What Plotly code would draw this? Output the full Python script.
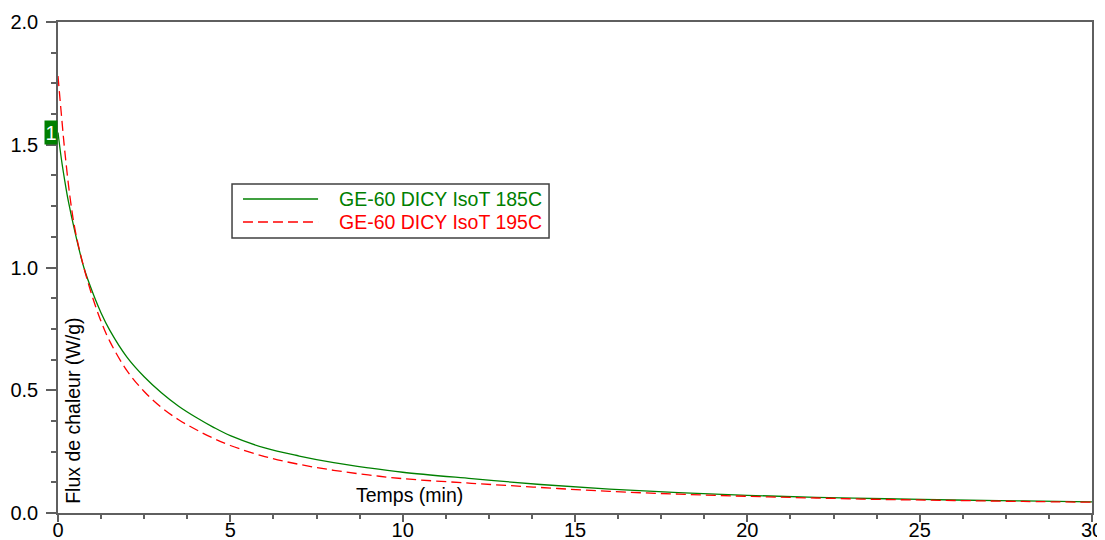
import plotly.graph_objects as go

# Temps (min) / flux de chaleur (W/g)
t_185 = [0, 0.1, 0.2, 0.3, 0.5, 0.75, 1.0, 1.25, 1.5, 2.0, 2.5, 3.0, 3.5, 4.0, 4.5, 5.0,
         6.0, 7.0, 8.0, 9.0, 10, 12, 14, 16, 18, 20, 22, 24, 26, 28, 30]
flux_185 = [1.55, 1.44, 1.35, 1.27, 1.14, 1.0, 0.9, 0.815, 0.745, 0.635, 0.555, 0.49,
            0.435, 0.39, 0.35, 0.315, 0.265, 0.232, 0.205, 0.184, 0.166, 0.14, 0.116,
            0.097, 0.083, 0.072, 0.064, 0.058, 0.053, 0.049, 0.045]

t_195 = [0, 0.1, 0.2, 0.35, 0.5, 0.75, 1.0, 1.25, 1.5, 2.0, 2.5, 3.0, 3.5, 4.0, 4.5, 5.0,
         6.0, 7.0, 8.0, 9.0, 10, 12, 14, 16, 18, 20, 22, 24, 26, 28, 30]
flux_195 = [1.78, 1.62, 1.47, 1.285, 1.15, 1.0, 0.88, 0.78, 0.70, 0.58, 0.495, 0.43,
            0.38, 0.34, 0.305, 0.275, 0.23, 0.198, 0.174, 0.155, 0.14, 0.121, 0.104,
            0.088, 0.077, 0.068, 0.061, 0.055, 0.051, 0.047, 0.044]

names = ["GE-60 DICY IsoT 185C", "GE-60 DICY IsoT 195C"]
colors = ["#008000", "#ff0000"]
dashes = ["solid", "10px,5px"]

FONT = "Liberation Sans, Arial, sans-serif"
AXIS_COL = "#5f5f5f"

fig = go.Figure()

fig.add_trace(go.Scatter(x=t_185, y=flux_185, mode="lines", name=names[0],
                         line=dict(color=colors[0], width=1.3, shape="spline", dash=dashes[0])))
fig.add_trace(go.Scatter(x=t_195, y=flux_195, mode="lines", name=names[1],
                         line=dict(color=colors[1], width=1.3, shape="spline", dash=dashes[1])))

# hand-made legend box (wider line samples than plotly's own legend)
box = dict(x0=0.1683, x1=0.4749, y0=0.560, y1=0.670)
fig.add_shape(type="rect", xref="paper", yref="paper", **box,
              line=dict(color="#404040", width=1.5), fillcolor="white")
rows_y = [0.6395, 0.5927]
for name, col, dash, yy in zip(names, colors, dashes, rows_y):
    fig.add_shape(type="line", xref="paper", yref="paper",
                  x0=0.1789, x1=0.2515, y0=yy, y1=yy,
                  line=dict(color=col, width=1.5, dash=dash))
    fig.add_annotation(text=name, xref="paper", yref="paper", x=0.2698, y=yy,
                       xanchor="left", yanchor="middle", showarrow=False,
                       font=dict(family=FONT, size=19.5, color=col))

# curve marker "1"
fig.add_annotation(text="1", x=0, y=flux_185[0], xref="x", yref="y",
                   xanchor="right", yanchor="middle", showarrow=False,
                   bgcolor="#008000", borderpad=0.5,
                   font=dict(family=FONT, size=20, color="white"))

# axis titles drawn inside the plot area
fig.add_annotation(text="Flux de chaleur (W/g)", xref="paper", yref="paper",
                   x=0.0145, y=0.208, textangle=-90, showarrow=False,
                   xanchor="center", yanchor="middle",
                   font=dict(family=FONT, size=19.5, color="black"))
fig.add_annotation(text="Temps (min)", xref="paper", yref="paper",
                   x=0.3395, y=0.0367, showarrow=False,
                   xanchor="center", yanchor="middle",
                   font=dict(family=FONT, size=19.5, color="black"))

fig.update_xaxes(range=[0, 30], dtick=5, tick0=0, showgrid=False, zeroline=False,
                 automargin=False,
                 showline=True, linecolor=AXIS_COL, linewidth=1.5, mirror=True,
                 ticks="outside", ticklen=7, tickcolor=AXIS_COL, tickwidth=1.5,
                 ticklabelstandoff=-9,
                 minor=dict(dtick=1.25, ticks="outside", ticklen=4,
                            tickcolor=AXIS_COL, showgrid=False),
                 tickfont=dict(family=FONT, size=20, color="black"))
fig.update_yaxes(range=[0, 2], dtick=0.5, tick0=0, tickformat=".1f",
                 showgrid=False, zeroline=False, automargin=False,
                 showline=True, linecolor=AXIS_COL, linewidth=1.5, mirror=True,
                 ticks="outside", ticklen=10, tickcolor=AXIS_COL, tickwidth=1.5,
                 ticklabelstandoff=4,
                 minor=dict(dtick=0.125, ticks="outside", ticklen=5,
                            tickcolor=AXIS_COL, showgrid=False),
                 tickfont=dict(family=FONT, size=20, color="black"))

# the page body keeps its default 8px margin, so the figure is 8px smaller
fig.update_layout(
    width=1097, height=532,
    margin=dict(l=50, r=13, t=14, b=27),
    paper_bgcolor="white", plot_bgcolor="white",
    showlegend=False,
)

fig.write_html("out.html")
